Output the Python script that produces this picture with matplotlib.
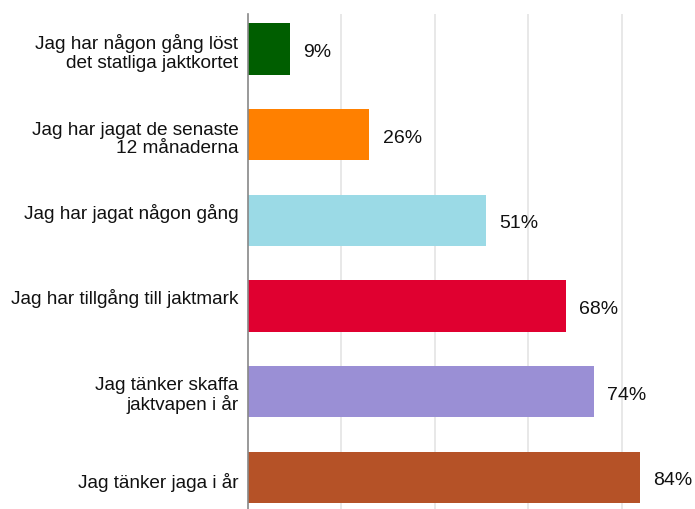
import matplotlib.pyplot as plt
from matplotlib.transforms import ScaledTranslation

categories = [
    "Jag har någon gång löst\ndet statliga jaktkortet",
    "Jag har jagat de senaste\n12 månaderna",
    "Jag har jagat någon gång",
    "Jag har tillgång till jaktmark",
    "Jag tänker skaffa\njaktvapen i år",
    "Jag tänker jaga i år",
]
values = [9, 26, 51, 68, 74, 84]
colors = ["#005E00", "#FF8000", "#9BDAE6", "#E00030", "#9A8FD5", "#B55227"]
# vertical nudge of each category label, in pixels (up is positive)
label_shift = [0, -1, 10, 11, 0, -2]

plt.rcParams["font.family"] = ["Liberation Sans", "DejaVu Sans"]

fig = plt.figure(figsize=(6.95, 5.10), dpi=100)
# axes from x=248px to right edge, y=15px to bottom edge
ax = fig.add_axes([248 / 695, 0, 1 - 248 / 695, 495 / 510])

ypos = list(range(len(categories)))
ax.barh(ypos, values, height=0.6, color=colors, zorder=2)

for y, v in zip(ypos, values):
    ax.text(v + 2.8, y + 0.03, f"{v}%", va="center", ha="left", fontsize=14, color="#111111")

ax.set_xlim(0, 95.7)
ax.set_ylim(5.37, -0.41)
ax.set_xticks([20, 40, 60, 80])
ax.set_xticklabels([])
ax.tick_params(axis="x", length=0)
ax.xaxis.grid(True, color="#E6E6E6", linewidth=1.3, zorder=0)
ax.set_yticks(ypos)
ax.set_yticklabels(categories, fontsize=13.7, color="#111111", linespacing=1.12)
ax.tick_params(axis="y", length=0, pad=7)
for lbl, dy in zip(ax.get_yticklabels(), label_shift):
    lbl.set_transform(lbl.get_transform() + ScaledTranslation(0, dy / 100, fig.dpi_scale_trans))
for s in ["top", "right", "bottom"]:
    ax.spines[s].set_visible(False)
ax.spines["left"].set_color("#888888")
ax.spines["left"].set_linewidth(1.2)
ax.spines["left"].set_zorder(3)

fig.savefig("out.png", dpi=100)
